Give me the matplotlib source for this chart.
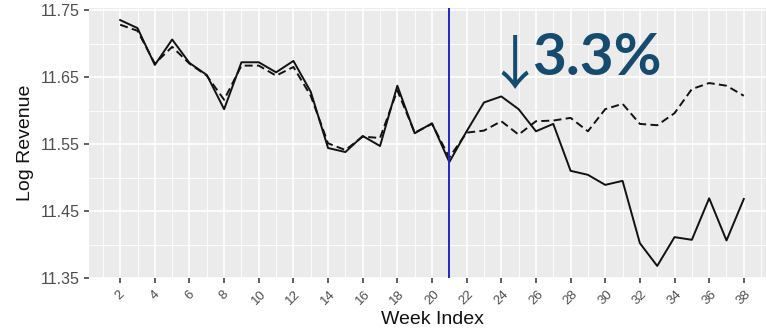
import numpy as np
import matplotlib
matplotlib.use("Agg")
import matplotlib.pyplot as plt
from matplotlib.ticker import MultipleLocator

# weekly log revenue: observed vs. synthetic control
weeks = list(range(2, 39))
observed = [11.735, 11.723, 11.668, 11.706, 11.671, 11.653, 11.602, 11.672, 11.672,
            11.657, 11.674, 11.628, 11.544, 11.538, 11.562, 11.547, 11.637, 11.566,
            11.581, 11.523, 11.569, 11.612, 11.621, 11.602, 11.569, 11.580, 11.510,
            11.504, 11.489, 11.495, 11.402, 11.368, 11.411, 11.407, 11.469, 11.406,
            11.468]
control = [11.728, 11.719, 11.670, 11.695, 11.670, 11.652, 11.616, 11.667, 11.667,
           11.652, 11.665, 11.622, 11.551, 11.541, 11.561, 11.559, 11.630, 11.567,
           11.580, 11.530, 11.567, 11.570, 11.584, 11.564, 11.584, 11.585, 11.589,
           11.569, 11.602, 11.610, 11.580, 11.578, 11.596, 11.632, 11.641, 11.637,
           11.622]
intervention_week = 21
drop_label = "3.3%"

PANEL, GRID, TICK, TXT = "#EBEBEB", "#FFFFFF", "#333333", "#4D4D4D"
BLUE, NAVY = "#2424C4", "#174B6E"
plt.rcParams["font.family"] = ["Liberation Sans", "DejaVu Sans"]

fig = plt.figure(figsize=(7.66, 3.30), dpi=100)
# panel runs a little past the right edge of the canvas
ax = fig.add_axes([89 / 766, 52 / 330, 686 / 766, 270 / 330])
ax.set_facecolor(PANEL)
for s in ax.spines.values():
    s.set_visible(False)

ax.set_xlim(0.2, 39.8)
ax.set_ylim(11.3506, 11.753)
ax.xaxis.set_major_locator(MultipleLocator(2))
ax.xaxis.set_minor_locator(MultipleLocator(1))
ax.yaxis.set_major_locator(MultipleLocator(0.1))
ax.yaxis.set_minor_locator(MultipleLocator(0.05))
ax.set_xticks(range(2, 39, 2))
ax.set_yticks([11.35, 11.45, 11.55, 11.65, 11.75])
ax.set_yticklabels(["11.35", "11.45", "11.55", "11.65", "11.75"])
ax.grid(which="major", color=GRID, lw=1.2)
ax.grid(which="minor", color=GRID, lw=0.6)
ax.set_axisbelow(True)
ax.tick_params(which="minor", length=0)
ax.tick_params(which="major", length=3.5, width=1.1, color=TICK, pad=3)
ax.tick_params(axis="y", labelsize=11.5, labelcolor=TXT)
ax.tick_params(axis="x", labelsize=9.5, labelcolor=TXT, labelrotation=45, pad=4)
for t in ax.get_xticklabels():
    t.set_ha("center")

ax.plot(weeks, control, color="#111111", lw=1.4, dashes=(4.1, 2.2), zorder=3)
ax.plot(weeks, observed, color="#111111", lw=1.4, zorder=4)
ax.axvline(intervention_week, color=BLUE, lw=1.4, zorder=5)

ax.set_ylabel("Log Revenue", fontsize=14, color="#111111")
ax.set_xlabel("Week Index", fontsize=14, color="#111111")
ax.xaxis.label.set_va("center")
ax.yaxis.label.set_va("center")
ax.xaxis.set_label_coords(0.5, -0.155)
ax.yaxis.set_label_coords(-0.093, 0.5)

# headline drop
fig.text(515 / 766, 1 - 67 / 330, "\u2193", fontsize=42, color=NAVY,
         family=["Noto Sans CJK SC", "DejaVu Sans"], ha="center", va="center")
fig.text(532 / 766, 1 - 75 / 330, drop_label, fontsize=42, color=NAVY,
         family="Lato", weight="bold", ha="left", va="baseline")

fig.savefig("out.png", dpi=100)
